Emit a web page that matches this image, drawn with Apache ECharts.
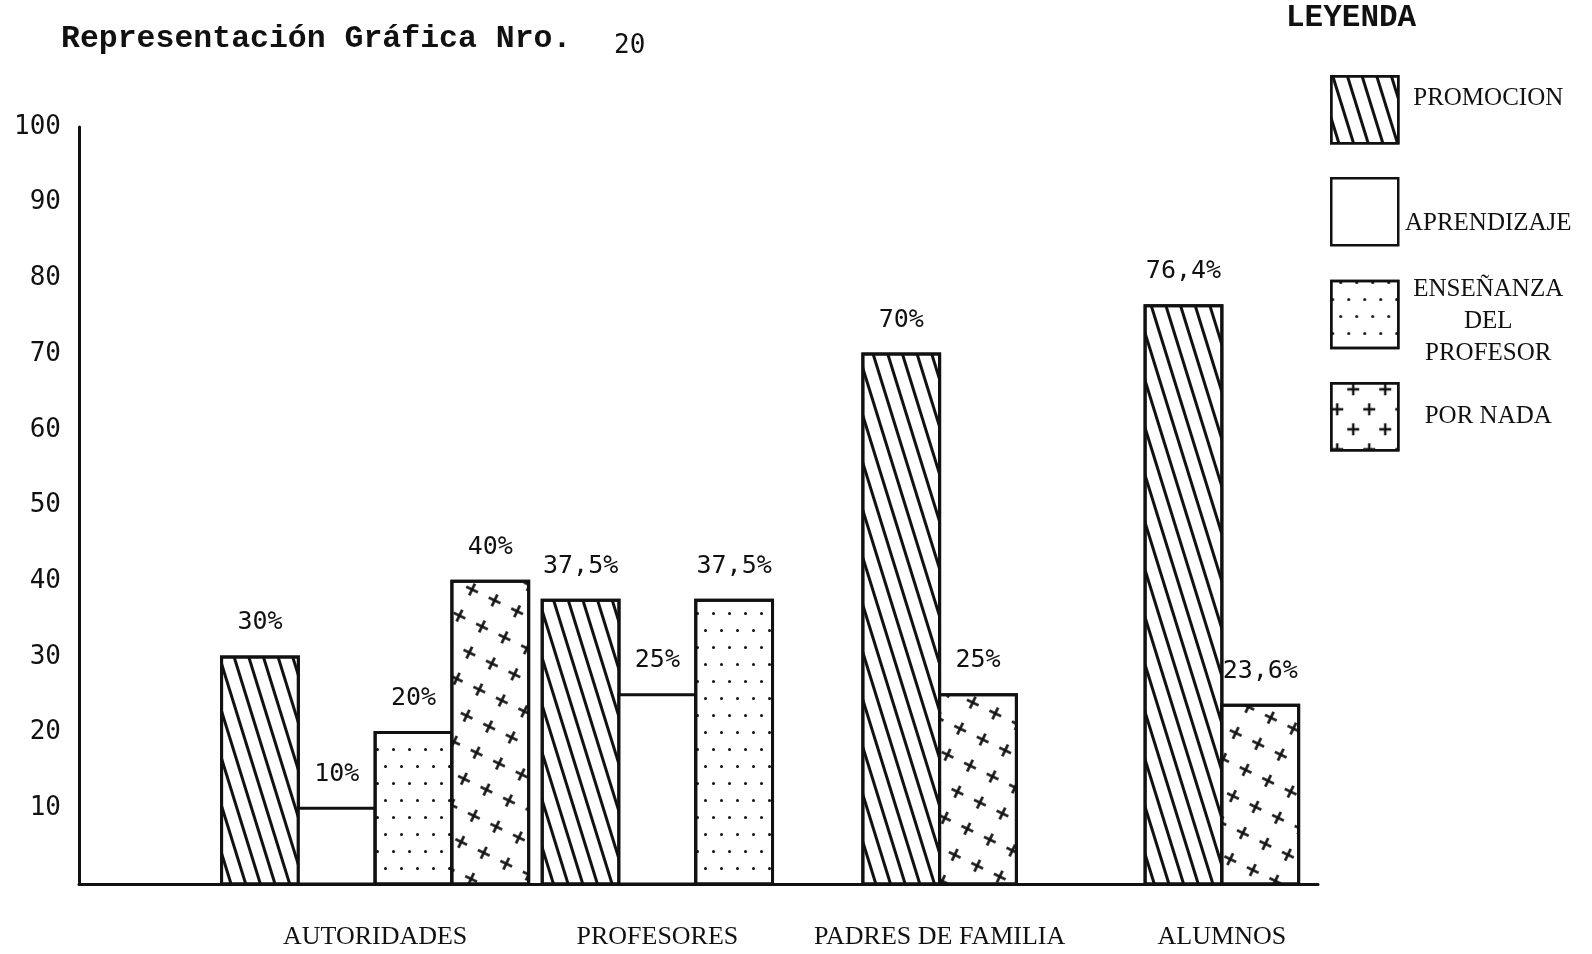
<!DOCTYPE html>
<html>
<head>
<meta charset="utf-8">
<script src="https://cdn.jsdelivr.net/npm/echarts@6/dist/echarts.min.js"></script>
<style>
  html, body { margin: 0; padding: 0; background: #fff; }
  #chart { width: 1592px; height: 954px; }
</style>
</head>
<body>
<div id="chart"></div>
<script>
// Groups along the horizontal axis
const categories = ['AUTORIDADES', 'PROFESORES', 'PADRES DE FAMILIA', 'ALUMNOS'];

// Series (legend entries) and their percentages per group; null = not reported
const seriesNames = ['PROMOCION', 'APRENDIZAJE', 'ENSEÑANZA\nDEL\nPROFESOR', 'POR NADA'];
const promocion   = [30, 37.5, 70, 76.4];
const aprendizaje = [10, 25, null, null];
const ensenanza   = [20, 37.5, null, null];
const porNada     = [40, null, 25, 23.6];
const seriesValues = [promocion, aprendizaje, ensenanza, porNada];

// Vertical scale
const yMin = 0, yMax = 100, yStep = 10;

const INK = '#111';
const BAR_FRACTION = 0.272;   // bar width as a share of a category band
const CROSS = 'path://M4,0H6V4H10V6H6V10H4V6H0V4H4Z';

// Hand-drawn style fills
const decals = [
  { symbol: 'rect', symbolSize: 1, color: INK, dashArrayX: [2.7, 10.3], dashArrayY: [20, 0], rotation: -0.3 },
  null,
  { symbol: 'circle', symbolSize: 1, color: INK, dashArrayX: [[3, 13], [0, 8, 3, 5]], dashArrayY: [3, 14] },
  { symbol: CROSS, symbolSize: 1, color: INK, dashArrayX: [[13, 12]], dashArrayY: [13, 16], rotation: 0.45 }
];
const legendDecals = decals.slice();
legendDecals[3] = { symbol: CROSS, symbolSize: 1, color: INK, dashArrayX: [[12, 20], [0, 16, 12, 4]], dashArrayY: [12, 8] };

const fmtPct = v => String(v).replace('.', ',') + '%';

// Bars of one group sit side by side; only reported series take a slot
function makeRenderItem(si) {
  return function (params, api) {
    const cat = api.value(0);
    const val = api.value(1);
    const present = seriesValues.map(arr => arr[cat] != null);
    const n = present.filter(Boolean).length;
    let k = 0;
    for (let j = 0; j < si; j++) if (present[j]) k++;
    const band = api.size([1, 0])[0];
    const w = band * BAR_FRACTION;
    const base = api.coord([cat, 0]);
    const top = api.coord([cat, val]);
    const x = base[0] - n * w / 2 + k * w;
    const style = { fill: '#fff', stroke: INK, lineWidth: 3 };
    if (decals[si]) style.decal = decals[si];
    return {
      type: 'rect',
      shape: { x: x, y: top[1], width: w, height: base[1] - top[1] },
      style: style,
      textContent: {
        style: { text: fmtPct(val), font: '25px "DejaVu Sans Mono"', fill: INK }
      },
      textConfig: { position: 'top', distance: 20 }
    };
  };
}

const series = seriesNames.map((name, si) => ({
  type: 'custom',
  name: name,
  xAxisIndex: 0,
  yAxisIndex: 0,
  renderItem: makeRenderItem(si),
  itemStyle: { color: '#fff', borderColor: INK, borderWidth: 3, decal: decals[si] || undefined },
  encode: { x: 0, y: 1 },
  data: seriesValues[si]
    .map((v, ci) => (v == null ? null : [ci, v]))
    .filter(d => d !== null)
}));

const legendTops = [75, 177, 277, 382];
const legendTextPad = [[0, 0, 22, 0], [24, 0, 0, 0], [14, 0, 0, 0], [0, 0, 0, 0]];
const legends = seriesNames.map((name, i) => ({
  orient: 'vertical',
  left: 1330,
  top: legendTops[i],
  padding: 0,
  itemWidth: 67,
  itemHeight: 67,
  icon: 'rect',
  selectedMode: false,
  formatter: nm => nm.split('\n').map(l => '{t|' + l + '}').join('\n'),
  textStyle: {
    color: INK,
    rich: { t: { fontFamily: 'Liberation Serif', fontSize: 25, color: INK, width: 170, align: 'center', lineHeight: 32 } }
  },
  data: [{
    name: name,
    itemStyle: { color: '#fff', borderColor: INK, borderWidth: 2.5, decal: legendDecals[i] || undefined },
    textStyle: { padding: legendTextPad[i] }
  }]
}));

const chart = echarts.init(document.getElementById('chart'), null, { renderer: 'canvas' });
chart.setOption({
  backgroundColor: '#fff',
  animation: false,
  title: [
    { text: 'Representación Gráfica Nro.', left: 61, top: 23, padding: 0,
      textStyle: { fontFamily: 'Liberation Mono', fontWeight: 'bold', fontSize: 31.5, color: INK } },
    { text: '20', left: 614, top: 33, padding: 0,
      textStyle: { fontFamily: 'DejaVu Sans Mono', fontWeight: 'normal', fontSize: 26, color: INK } },
    { text: 'LEYENDA', left: 1286, top: 3, padding: 0,
      textStyle: { fontFamily: 'Liberation Mono', fontWeight: 'bold', fontSize: 31, color: INK } }
  ],
  legend: legends,
  grid: [
    { left: 234, right: 229, top: 127, bottom: 70 },
    { left: 79, right: 274, top: 127, bottom: 70 }
  ],
  xAxis: [
    { gridIndex: 0, type: 'category', data: categories,
      axisLine: { show: false }, axisTick: { show: false }, splitLine: { show: false },
      axisLabel: { interval: 0, margin: 40, fontFamily: 'Liberation Serif', fontSize: 26, color: INK } },
    { gridIndex: 1, type: 'value', min: 0, max: 1,
      axisLine: { show: true, lineStyle: { color: INK, width: 3 } },
      axisTick: { show: false }, axisLabel: { show: false }, splitLine: { show: false } }
  ],
  yAxis: [
    { gridIndex: 0, type: 'value', min: yMin, max: yMax, show: false },
    { gridIndex: 1, type: 'value', min: yMin, max: yMax, interval: yStep,
      axisLine: { show: true, lineStyle: { color: INK, width: 3 } },
      axisTick: { show: false }, splitLine: { show: false },
      axisLabel: { margin: 18, fontFamily: 'DejaVu Sans Mono', fontSize: 26, color: INK,
        formatter: v => (v === 0 ? '' : String(v)) } }
  ],
  series: series
});
</script>
</body>
</html>
